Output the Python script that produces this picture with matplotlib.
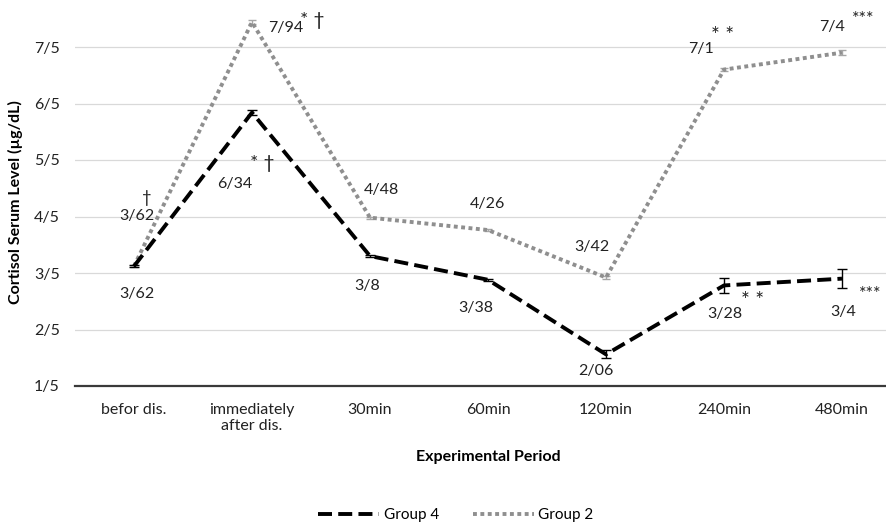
import numpy as np
import matplotlib
matplotlib.use("Agg")
import matplotlib.pyplot as plt

plt.rcParams['font.family'] = ['Lato', 'DejaVu Sans']

periods = ['befor dis.', 'immediately\nafter dis.', '30min', '60min', '120min', '240min', '480min']
group4 = [3.62, 6.34, 3.80, 3.38, 2.06, 3.28, 3.40]
group4_err = [0.02, 0.04, 0.02, 0.02, 0.07, 0.13, 0.17]
group2 = [3.62, 7.94, 4.48, 4.26, 3.42, 7.10, 7.40]
group2_err = [0.02, 0.03, 0.02, 0.02, 0.02, 0.02, 0.04]
group4_labels = ['3/62', '6/34', '3/8', '3/38', '2/06', '3/28', '3/4']
group2_labels = ['3/62', '7/94', '4/48', '4/26', '3/42', '7/1', '7/4']
yticks = [1.5, 2.5, 3.5, 4.5, 5.5, 6.5, 7.5]
ytick_labels = ['1/5', '2/5', '3/5', '4/5', '5/5', '6/5', '7/5']

fig = plt.figure(figsize=(8.87, 5.23), dpi=100)
ax = fig.add_axes([75/887, 1-386/523, 826/887, (386-18.75)/523])

x = np.arange(len(periods))

ax.errorbar(x, group2, yerr=group2_err, fmt='none', ecolor='#a6a6a6', elinewidth=1, capsize=3, zorder=3)
l2, = ax.plot(x, group2, color='#8f8f8f', lw=2.8, linestyle=(0, (1, 0.9)), label='Group 2', zorder=3)
ax.errorbar(x, group4, yerr=group4_err, fmt='none', ecolor='black', elinewidth=1, capsize=3.5, zorder=4)
l4, = ax.plot(x, group4, color='black', lw=2.8, linestyle=(0, (3.6, 1.6)), label='Group 4', zorder=4)

ax.set_xlim(-0.5, 6.5)
ax.set_ylim(1.5, 8.0)
ax.set_yticks(yticks)
ax.set_yticklabels(ytick_labels)
ax.set_xticks(x)
ax.set_xticklabels(periods)
ax.tick_params(axis='both', length=0, labelsize=11.5, colors='#222222')
ax.tick_params(axis='y', pad=11)
ax.tick_params(axis='x', pad=12)
ax.grid(axis='y', color='#d9d9d9', lw=0.9)
ax.set_axisbelow(True)
for s in ['top', 'right', 'left']:
    ax.spines[s].set_visible(False)
ax.spines['bottom'].set_color('#3a3a3a')
ax.spines['bottom'].set_linewidth(1.6)

ax.set_xlabel('Experimental Period', fontsize=11.5, fontweight='bold', labelpad=12)
ax.set_ylabel('Cortisol Serum Level (µg/dL)', fontsize=11.5, fontweight='bold', labelpad=8)

# value labels (offsets in pixels from each point)
g2_off = [(3, 50), (34, -6), (11, 28), (-1, 26), (-14, 31), (-23, 21), (-10, 26)]
g4_off = [(3, -28), (-17, -71), (-3, -30), (-12, -28), (-10, -17), (1, -29), (1, -33)]
for i in range(len(periods)):
    ax.annotate(group2_labels[i], (x[i], group2[i]), xytext=g2_off[i], textcoords='offset pixels',
                ha='center', va='center', fontsize=11.5, color='#222222')
    ax.annotate(group4_labels[i], (x[i], group4[i]), xytext=g4_off[i], textcoords='offset pixels',
                ha='center', va='center', fontsize=11.5, color='#222222')

# significance marks
marks = [
    (0, group2[0], '†', (13, 68), 12),
    (1, group2[1], '* †', (60, 2), 14),
    (1, group4[1], '* †', (10, -51), 14),
    (5, group2[5], '* *', (-1, 34), 15),
    (6, group2[6], '***', (21, 34), 13),
    (5, group4[5], '* *', (29, -16), 15),
    (6, group4[6], '***', (28, -15), 13),
]
for xi, yi, txt, off, fs in marks:
    ax.annotate(txt, (xi, yi), xytext=off, textcoords='offset pixels',
                ha='center', va='center', fontsize=fs, color='#222222')

fig.legend([l4, l2], ['Group 4', 'Group 2'], loc='center',
           bbox_to_anchor=(456/887, 1-515/523), ncol=2, frameon=False, fontsize=11,
           handlelength=4, columnspacing=2.2, handletextpad=0.3)

fig.savefig('out.png', dpi=100)
